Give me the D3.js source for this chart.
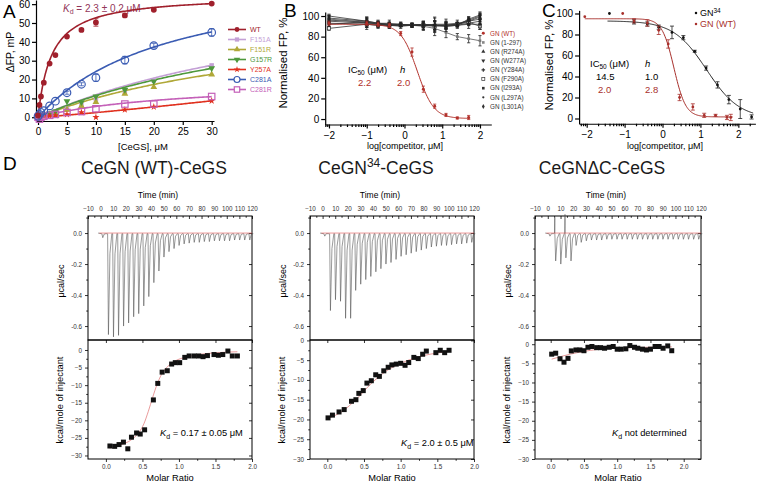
<!DOCTYPE html>
<html><head><meta charset="utf-8">
<script src="https://cdn.jsdelivr.net/npm/d3@7"></script>
<style>body{margin:0;background:#fff}svg{display:block}</style>
</head><body><svg id="c" width="759" height="484"></svg>
<script>
// ================= DATA =================
// ---- Panel A : ΔFP vs [CeGS]
const concA = [0, 0.25, 0.5, 1, 2, 3, 5, 7.5, 10, 15, 20, 30];
const namesA = ["WT","F151A","F151R","G157R","Y257A","C281A","C281R"];
const colorsA = ["#a0202c","#c4a0d6","#b0a838","#4e983c","#e0301e","#3b5cb3","#c460b8"];
const valsWT    = [1, 6.5, 11, 18.3, 28.5, 33, 42.8, 46.3, 50.3, 54, 57, 60.3];
const valsF151A = [0, 0.3, 0.5, 1, 2, 2.5, 4.5, 6.5, 9.5, 13, 19.5, 27.5];
const valsF151R = [0, 0.3, 0.5, 1, 1.5, 2, 4, 6, 8, 12.5, 16, 22.7];
const valsG157R = [0, 0.5, 1, 1.5, 2, 3, 8.5, 8, 11, 14.5, 19, 26];
const valsY257A = [0.5, 0.3, 0.5, 0.5, 0.8, 1, 1.5, 2.5, 0, 4, 5.5, 8.7];
const valsC281A = [0.5, 1.5, 2.5, 3.5, 6, 8.5, 13, 17.5, 21, 30.3, 38, 45];
const valsC281R = [0, -1, 0, 0.5, 1, 1.5, 2.5, 3, 4.5, 7, 7, 11];
const errWT     = [0, 0, 0, 0, 0, 0, 0, 0.8, 2, 0.8, 0.5, 0.5];
const errC281A  = [0, 0, 0, 0, 0, 0, 0.8, 0.8, 2, 2, 1.2, 2];
const fitBmaxA  = [64.9, 80, 60, 70, 8.7, 80, 20];
const fitKdA    = [2.3, 57, 49, 51, 1e9, 23, 25];
const fitHillA  = [1, 1, 1, 1, 1.15, 1, 1];
const ticksXA = [0, 5, 10, 15, 20, 25, 30];
const ticksYA = [0, 10, 20, 30, 40, 50, 60];

// ---- Panel B : competition, GN mutants
const logConcB = [-2, -1, -0.7, -0.4, -0.1, 0.2, 0.5, 0.8, 1.1, 1.4, 1.7, 2.0];
const namesB = ["GN (WT)","GN (1-297)","GN (R274A)","GN (W277A)","GN (Y284A)","GN (F290A)","GN (I293A)","GN (L297A)","GN (L301A)"];
const bWT    = [93, 93, 92, 91, 83, 65, 29, 12.5, 4, 1, 1.5, null];
const errBWT = [2, 2, 2, 2, 2, 4, 3, 2, 1.5, 1, 2, 0];
const b1_297 = [97, 94, 93, 93, 92, 91, 90, 88, 84, 80, 78, 76];
const bR274A = [95, 93, 92, 91, 91, 91, 91, 91, 90, 91, 93, 95];
const bW277A = [100, 95, 93, 92, 91, 91, 92, 91, 91, 92, 96, 100];
const bY284A = [92, 94, 92, 91, 92, 91, 91, 92, 92, 93, 95, 97];
const bF290A = [88, 92, 91, 91, 91, 91, 91, 90, 91, 92, 94, 90];
const bI293A = [98, 95, 93, 92, 91, 92, 91, 91, 91, 91, 97, 101];
const bL297A = [93, 92, 91, 91, 90, 91, 91, 91, 90, 91, 92, 92];
const bL301A = [96, 94, 92, 92, 92, 91, 92, 91, 91, 92, 95, 99];
const errBlackB = [3, 5, 3, 3, 2, 2, 4, 7, 5, 3, 4, 5];
const fitB_WT = {top: 92, bottom: 0.5, ic50: 2.2, h: 2.0};
const ticksXB = [-2, -1, 0, 1, 2];
const ticksYB = [0, 20, 40, 60, 80, 100];

// ---- Panel C : GN34 vs GN(WT)
const logConcC34 = [-1.4, -0.75, -0.4, -0.1, 0.25, 0.55, 0.85, 1.15, 1.45, 1.75, 2.05, 2.35];
const vC34       = [100, 92, 90, 87, 82, 77, 64, 48, 32, 18, 9, 1.5];
const errC34     = [0, 2, 2, 2, 6, 2, 1, 2, 3, 4, 9, 2];
const logConcCWT = [-2.05, -1.05, -0.75, -0.4, -0.1, 0.15, 0.45, 0.8, 1.1, 1.4, 1.7, 1.8];
const vCWT       = [97, 100, 93, 91, 84, 71, 20, 11, 3, 3, 1, 1];
const errCWT     = [0, 0, 2, 3, 4, 4, 3, 3, 2, 1, 2, 3];
const fitC34 = {top: 93, bottom: 0, ic50: 14.5, h: 1.0};
const fitCWT = {top: 95, bottom: 1.5, ic50: 2.0, h: 2.8};

// ---- Panel D : ITC
const injT  = [1, 5.5, 9.5, 13.5, 17.5, 21.5, 25.5, 29.5, 33.5, 37.5, 41.5, 45.5, 49.5, 53.5, 57.5, 61.5, 65.5, 69.5, 73.5, 77.5, 81.5, 85.5, 89.5, 93.5, 97.5, 101.5, 105.5, 109.5, 113.5, 117.5];
const peak1 = [-0.03, -0.655, -0.67, -0.66, -0.60, -0.58, -0.54, -0.52, -0.47, -0.41, -0.32, -0.245, -0.155, -0.12, -0.10, -0.08, -0.07, -0.065, -0.06, -0.06, -0.055, -0.055, -0.05, -0.05, -0.05, -0.05, -0.045, -0.045, -0.045, -0.045];
const peak2 = [-0.02, -0.50, -0.43, -0.44, -0.55, -0.55, -0.37, -0.33, -0.30, -0.28, -0.25, -0.23, -0.20, -0.19, -0.17, -0.15, -0.14, -0.13, -0.12, -0.11, -0.10, -0.09, -0.085, -0.08, -0.08, -0.075, -0.07, -0.07, -0.065, -0.06];
const peak3 = [-0.02, -0.18, -0.20, -0.16, -0.18, -0.08, -0.06, -0.05, -0.045, -0.045, -0.045, -0.04, -0.04, -0.04, -0.04, -0.04, -0.04, -0.04, -0.04, -0.04, -0.04, -0.04, -0.04, -0.04, -0.04, -0.04, -0.04, -0.04, -0.04, -0.04];
const up3   = [0, 0.10, 0, 0.12, 0, 0, 0, 0, 0, 0, 0, 0, 0, 0, 0, 0, 0, 0, 0, 0, 0, 0, 0, 0, 0, 0, 0, 0, 0, 0];
const ratio1 = [0.055,0.12,0.18,0.24,0.30,0.35,0.42,0.47,0.53,0.65,0.71,0.77,0.84,0.90,0.95,1.01,1.08,1.14,1.21,1.27,1.33,1.39,1.48,1.54,1.60,1.67,1.73,1.80];
const dh1    = [-27.3,-27.4,-26.9,-26.2,-28.1,-24.8,-23.6,-23.9,-22.7,-14.2,-9.5,-6.3,-5.9,-4.0,-3.6,-3.6,-2.1,-1.7,-1.7,-1.7,-1.9,-1.6,-1.3,-1.5,-1.3,-0.3,-1.7,-1.7];
const ratio2 = [0.01,0.07,0.16,0.23,0.33,0.39,0.43,0.49,0.54,0.60,0.66,0.71,0.77,0.83,0.88,0.94,1.00,1.06,1.11,1.18,1.24,1.30,1.35,1.48,1.54,1.60,1.66];
const dh2    = [-19.6,-18.9,-18.1,-17.5,-15.4,-15.0,-13.4,-12.7,-10.8,-10.2,-8.7,-9.1,-7.7,-6.8,-6.2,-6.0,-5.8,-6.3,-5.6,-4.3,-4.6,-3.5,-2.7,-3.1,-2.5,-3.1,-2.5];
const ratio3 = [0.015,0.075,0.14,0.2,0.26,0.31,0.38,0.44,0.5,0.56,0.62,0.69,0.75,0.81,0.88,0.94,1.0,1.06,1.13,1.19,1.26,1.31,1.38,1.44,1.5,1.57,1.63,1.69,1.76,1.82];
const dh3    = [-2.6,-2.35,-3.8,-4.7,-3.7,-1.75,-1.5,-1.5,-1.7,-0.8,-0.6,-0.9,-0.9,-1.05,-0.8,-0.6,-1.3,-1.3,-1.2,-0.35,-0.8,-1.05,-1.3,-1.5,-1.3,-0.6,-0.6,-1.05,-0.45,-1.7];
const fitR1 = [0.05,0.2,0.35,0.45,0.52,0.58,0.64,0.7,0.76,0.85,0.95,1.1,1.3,1.5,1.8];
const fitD1 = [-27.9,-27.0,-25.5,-23.5,-21,-17.5,-13.5,-9.8,-7,-4.6,-3.1,-2,-1.2,-0.8,-0.5];
const fitR2 = [0,0.2,0.4,0.6,0.8,1.0,1.2,1.4,1.66];
const fitD2 = [-19.8,-18,-14.8,-10.9,-7.8,-5.8,-4.4,-3.5,-2.8];
const fitR3 = [0.015,0.2,0.4,0.6,0.8,1.0,1.3,1.6,1.82];
const fitD3 = [-3.9,-3.0,-2.2,-1.6,-1.2,-1.0,-0.85,-0.75,-0.7];
const timeTicks = [-10,0,10,20,30,40,50,60,70,80,90,100,110,120];
const ucalTicks = [0,-0.2,-0.4,-0.6];
const kcalTicks = [0,-5,-10,-15,-20,-25,-30];
const ratioTicks = [0,0.5,1.0,1.5,2.0];

// ================= DRAW =================
const FONT = '"Liberation Sans", Arial, Helvetica, sans-serif';
const svg = d3.select("#c");
svg.append("rect").attr("width",759).attr("height",484).attr("fill","#fff");

function styleAxis(g, fs, sw, col) {
  g.attr("font-family", FONT).attr("font-size", fs);
  g.selectAll("path.domain").attr("stroke","#000").attr("stroke-width", sw||1.2);
  g.selectAll(".tick line").attr("stroke","#000").attr("stroke-width", sw||1.2);
  g.selectAll(".tick text").attr("fill", col||"#000");
}
function marker(g, type, x, y, size, fill, stroke, sw) {
  let sym = d3.symbolCircle, rot = 0;
  if (type==="square") sym = d3.symbolSquare;
  if (type==="tri") sym = d3.symbolTriangle;
  if (type==="tridown") { sym = d3.symbolTriangle; rot = 180; }
  if (type==="star") sym = d3.symbolStar;
  if (type==="cross") sym = d3.symbolCross;
  if (type==="diamond") sym = d3.symbolDiamond;
  g.append("path").attr("d", d3.symbol().type(sym).size(size)())
    .attr("transform", `translate(${x},${y}) rotate(${rot})`)
    .attr("fill", fill).attr("stroke", stroke||"none").attr("stroke-width", sw||1);
}
function errBar(g, x, y0, y1, col, cap) {
  g.append("line").attr("x1",x).attr("x2",x).attr("y1",y0).attr("y2",y1).attr("stroke",col).attr("stroke-width",0.8);
  [y0,y1].forEach(yy => g.append("line").attr("x1",x-cap).attr("x2",x+cap).attr("y1",yy).attr("y2",yy).attr("stroke",col).attr("stroke-width",0.8));
}
function addText(g, x, y, s, fs, opts) {
  opts = opts || {};
  const t = g.append("text").attr("x",x).attr("y",y).attr("font-family",FONT).attr("font-size",fs)
    .attr("fill", opts.fill||"#000").attr("text-anchor", opts.anchor||"start").text(s);
  if (opts.rot) t.attr("transform", `rotate(${opts.rot},${x},${y})`);
  if (opts.weight) t.attr("font-weight", opts.weight);
  return t;
}
function logMinor(lo, hi) {
  const out = [];
  for (let n = -3; n <= 3; n++) for (let k = 2; k <= 9; k++) { const v = n + Math.log10(k); if (v > lo && v < hi) out.push(v); }
  return out;
}

// ---------- Panel A ----------
{
  const g = svg.append("g");
  const x = d3.scaleLinear().domain([-0.35, 30.4]).range([36, 214]);
  const y = d3.scaleLinear().domain([-2, 62.2]).range([121, 0]);
  g.append("g").attr("transform","translate(36,0)")
    .call(d3.axisLeft(y).tickValues(ticksYA).tickSize(4).tickSizeOuter(0).tickPadding(2)).call(styleAxis, 10);
  g.append("g").attr("transform","translate(0,121)")
    .call(d3.axisBottom(x).tickValues(ticksXA).tickSize(4).tickSizeOuter(0).tickPadding(3)).call(styleAxis, 10);
  addText(g, 3, 18, "A", 19);
  addText(g, 14, 52, "ΔFP, mP", 10.5, {rot:-90, anchor:"middle"});
  addText(g, 143, 150, "[CeGS], μM", 9.5, {anchor:"middle"});
  const kd = g.append("text").attr("x",63).attr("y",12).attr("font-family",FONT).attr("font-size",10).attr("fill","#93365a");
  kd.append("tspan").attr("font-style","italic").text("K");
  kd.append("tspan").attr("font-size",7).attr("dy",2).text("d");
  kd.append("tspan").attr("dy",-2).text(" = 2.3 ± 0.2 μM");

  const vals = [valsWT, valsF151A, valsF151R, valsG157R, valsY257A, valsC281A, valsC281R];
  const mk = ["circle","square","tri","tridown","star","ocircle","osquare"];
  const order = [1,2,3,4,6,5,0];
  const line = d3.line().x(d => x(d[0])).y(d => y(d[1]));
  const xs = d3.range(0, 30.01, 0.25);
  order.forEach(i => {
    const B = fitBmaxA[i], K = fitKdA[i], n = fitHillA[i];
    const pts = xs.map(c => [c, K > 1e8 ? B * Math.pow(c/30, n) : B * Math.pow(c,n) / (Math.pow(K,n) + Math.pow(c,n))]);
    g.append("path").attr("d", line(pts)).attr("fill","none").attr("stroke",colorsA[i]).attr("stroke-width",1.6);
  });
  order.forEach(i => {
    const col = colorsA[i];
    concA.forEach((c, j) => {
      const v = vals[i][j];
      if (i===0 && errWT[j]) errBar(g, x(c), y(v-errWT[j]), y(v+errWT[j]), col, 2.5);
      if (i===5 && errC281A[j]) errBar(g, x(c), y(v-errC281A[j]), y(v+errC281A[j]), col, 2.5);
      const t = mk[i];
      if (t==="ocircle") g.append("circle").attr("cx",x(c)).attr("cy",y(v)).attr("r",3.8).attr("fill","none").attr("stroke",col).attr("stroke-width",1.2);
      else if (t==="osquare") g.append("rect").attr("x",x(c)-3.2).attr("y",y(v)-3.2).attr("width",6.4).attr("height",6.4).attr("fill","none").attr("stroke",col).attr("stroke-width",1.2);
      else marker(g, t, x(c), y(v), t==="star"?16:(i===0?26:20), col);
    });
  });
  // legend
  namesA.forEach((nm, i) => {
    const yy = 29.5 + i * 10, col = colorsA[i];
    g.append("line").attr("x1",228).attr("x2",246).attr("y1",yy).attr("y2",yy).attr("stroke",col).attr("stroke-width",1.6);
    const t = mk[i];
    if (t==="ocircle") g.append("circle").attr("cx",237).attr("cy",yy).attr("r",3).attr("fill","#fff").attr("stroke",col).attr("stroke-width",1.2);
    else if (t==="osquare") g.append("rect").attr("x",234.3).attr("y",yy-2.7).attr("width",5.4).attr("height",5.4).attr("fill","#fff").attr("stroke",col).attr("stroke-width",1.2);
    else marker(g, t, 237, yy, t==="star"?14:18, col);
    addText(g, 250, yy + 2.5, nm, 7, {fill: col});
  });
}

// ---------- Panel B ----------
{
  const g = svg.append("g");
  const x = d3.scaleLinear().domain([-2.1, 2.3]).range([325.2, 491.3]);
  const y = d3.scaleLinear().domain([-5.3, 104]).range([124.5, 11.9]);
  g.append("g").attr("transform","translate(325.2,0)")
    .call(d3.axisLeft(y).tickValues(ticksYB).tickSize(4).tickSizeOuter(0).tickPadding(2)).call(styleAxis, 10);
  g.append("g").attr("transform","translate(0,124.5)")
    .call(d3.axisBottom(x).tickValues(ticksXB).tickSize(4).tickSizeOuter(0).tickPadding(3).tickFormat(d3.format("d"))).call(styleAxis, 10);
  g.append("g").attr("transform","translate(0,124.5)")
    .call(d3.axisBottom(x).tickValues(logMinor(-2.1, 2.3)).tickSize(2.5).tickFormat("")).call(styleAxis, 10)
    .select("path.domain").remove();
  addText(g, 284, 17, "B", 19);
  addText(g, 287, 63, "Normalised FP, %", 11.5, {rot:-90, anchor:"middle"});
  addText(g, 405, 149, "log[competitor, μM]", 9, {anchor:"middle"});

  const blackSeries = [b1_297, bR274A, bW277A, bY284A, bF290A, bI293A, bL297A, bL301A];
  const blackMk = ["square","tri","tridown","cross","osq","square","circle","diamond"];
  const line = d3.line().defined(d => d[1] != null).x(d => x(d[0])).y(d => y(d[1]));
  blackSeries.forEach((s, k) => {
    const pts = logConcB.map((c, j) => [c, s[j]]);
    g.append("path").attr("d", line(pts)).attr("fill","none").attr("stroke", k===0?"#555":"#333").attr("stroke-width",0.8);
  });
  blackSeries.forEach((s, k) => {
    logConcB.forEach((c, j) => {
      const e = errBlackB[j] * (k % 3 === 0 ? 1 : 0.6);
      errBar(g, x(c), y(s[j]-e), y(s[j]+e), "#222", 1.6);
      if (blackMk[k]==="osq") g.append("rect").attr("x",x(c)-1.6).attr("y",y(s[j])-1.6).attr("width",3.2).attr("height",3.2).attr("fill","#fff").attr("stroke","#222").attr("stroke-width",0.7);
      else marker(g, blackMk[k], x(c), y(s[j]), 7, k===0?"#777":"#222");
    });
  });
  // red WT
  const xs = d3.range(-2, 1.76, 0.02);
  const f = fitB_WT;
  g.append("path").attr("d", d3.line().x(d => x(d)).y(d => y(f.bottom + (f.top - f.bottom) / (1 + Math.pow(10, (d - Math.log10(f.ic50)) * f.h))))(xs))
    .attr("fill","none").attr("stroke","#b2302a").attr("stroke-width",1);
  logConcB.forEach((c, j) => {
    if (bWT[j] == null) return;
    if (errBWT[j]) errBar(g, x(c), y(bWT[j]-errBWT[j]), y(bWT[j]+errBWT[j]), "#b2302a", 1.6);
    marker(g, "circle", x(c), y(bWT[j]), 7, "#b2302a");
  });
  // IC50 text
  const t1 = g.append("text").attr("x",348).attr("y",73).attr("font-family",FONT).attr("font-size",9.5);
  t1.append("tspan").text("IC");
  t1.append("tspan").attr("font-size",6.5).attr("dy",2).text("50");
  t1.append("tspan").attr("dy",-2).text(" (μM)");
  addText(g, 400, 73, "h", 9.5, {}).attr("font-style","italic");
  addText(g, 358, 86, "2.2", 9.5, {fill:"#b2302a"});
  addText(g, 397, 86, "2.0", 9.5, {fill:"#b2302a"});
  // legend
  const legMk = ["circle","square","tri","tridown","cross","osq","square","circle","diamond"];
  namesB.forEach((nm, i) => {
    const yy = 33.3 + i * 9.15;
    const col = i === 0 ? "#b2302a" : "#333";
    if (legMk[i]==="osq") g.append("rect").attr("x",481.8).attr("y",yy-1.5).attr("width",3).attr("height",3).attr("fill","#fff").attr("stroke",col).attr("stroke-width",0.7);
    else marker(g, legMk[i], 483.3, yy, i===7?4:7, i===1?"#888":col);
    addText(g, 490, yy + 2.2, nm, 6.3, {fill: col});
  });
}

// ---------- Panel C ----------
{
  const g = svg.append("g");
  const x = d3.scaleLinear().domain([-2.2, 2.45]).range([579.1, 755.4]);
  const y = d3.scaleLinear().domain([-5, 103]).range([123.75, 10.35]);
  g.append("g").attr("transform","translate(579.1,0)")
    .call(d3.axisLeft(y).tickValues(ticksYB).tickSize(4).tickSizeOuter(0).tickPadding(2)).call(styleAxis, 10);
  g.append("g").attr("transform","translate(0,123.75)")
    .call(d3.axisBottom(x).tickValues(ticksXB).tickSize(4).tickSizeOuter(0).tickPadding(3).tickFormat(d3.format("d"))).call(styleAxis, 10);
  g.append("g").attr("transform","translate(0,123.75)")
    .call(d3.axisBottom(x).tickValues(logMinor(-2.2, 2.45)).tickSize(2.5).tickFormat("")).call(styleAxis, 10)
    .select("path.domain").remove();
  addText(g, 542, 17, "C", 19);
  addText(g, 553, 65, "Normalised FP, %", 11.5, {rot:-90, anchor:"middle"});
  addText(g, 665, 149, "log[competitor, μM]", 9, {anchor:"middle"});
  const sig = f => d => f.bottom + (f.top - f.bottom) / (1 + Math.pow(10, (d - Math.log10(f.ic50)) * f.h));
  g.append("path").attr("d", d3.line().x(d => x(d)).y(d => y(sig(fitC34)(d)))(d3.range(-1.45, 2.41, 0.02)))
    .attr("fill","none").attr("stroke","#222").attr("stroke-width",1);
  g.append("path").attr("d", d3.line().x(d => x(d)).y(d => y(sig(fitCWT)(d)))(d3.range(-2.05, 1.86, 0.02)))
    .attr("fill","none").attr("stroke","#a8302c").attr("stroke-width",1);
  logConcC34.forEach((c, j) => {
    if (errC34[j]) errBar(g, x(c), y(vC34[j]-errC34[j]), y(vC34[j]+errC34[j]), "#222", 2);
    marker(g, "circle", x(c), y(vC34[j]), 6, "#111");
  });
  logConcCWT.forEach((c, j) => {
    if (errCWT[j]) errBar(g, x(c), y(vCWT[j]-errCWT[j]), y(vCWT[j]+errCWT[j]), "#a8302c", 2);
    marker(g, "circle", x(c), y(vCWT[j]), 6, "#a8302c");
  });
  const lg = g.append("text").attr("x",700).attr("y",16).attr("font-family",FONT).attr("font-size",9);
  lg.append("tspan").text("GN"); lg.append("tspan").attr("font-size",6.5).attr("dy",-3.5).text("34");
  marker(g, "circle", 696, 13, 5, "#111");
  addText(g, 700, 27, "GN (WT)", 9, {fill:"#a8302c"});
  marker(g, "circle", 696, 24, 5, "#a8302c");
  const t1 = g.append("text").attr("x",590).attr("y",67).attr("font-family",FONT).attr("font-size",9.5);
  t1.append("tspan").text("IC");
  t1.append("tspan").attr("font-size",6.5).attr("dy",2).text("50");
  t1.append("tspan").attr("dy",-2).text(" (μM)");
  addText(g, 645, 67, "h", 9.5, {}).attr("font-style","italic");
  addText(g, 596, 80, "14.5", 9.5, {});
  addText(g, 645, 80, "1.0", 9.5, {});
  addText(g, 598, 93, "2.0", 9.5, {fill:"#a8302c"});
  addText(g, 645, 93, "2.8", 9.5, {fill:"#a8302c"});
}

// ---------- Panel D ----------
addText(svg, 3, 170, "D", 19);
const itcPanels = [
  {left: 88, right: 252, peaks: peak1, up: null, ratio: ratio1, dh: dh1, fr: fitR1, fd: fitD1, rDom: [-0.245, 2.0], lowDom: [-31, 2.84],
   title: ["CeGN (WT)-CeGS"], kd: ["0.17 ± 0.05 μM", 160, 436]},
  {left: 310, right: 474, peaks: peak2, up: null, ratio: ratio2, dh: dh2, fr: fitR2, fd: fitD2, rDom: [-0.236, 2.0], lowDom: [-30, 0.1],
   title: ["CeGN", "34", "-CeGS"], kd: ["2.0 ± 0.5 μM", 401, 446]},
  {left: 535, right: 701, peaks: peak3, up: up3, ratio: ratio3, dh: dh3, fr: fitR3, fd: fitD3, rDom: [-0.236, 2.26], lowDom: [-30, 1.1],
   title: ["CeGNΔC-CeGS"], kd: null}
];
const TOP = 216, MID = 340, BOT = 459;
itcPanels.forEach((p, pi) => {
  const g = svg.append("g");
  const cx = (p.left + p.right) / 2;
  const tx = d3.scaleLinear().domain([-10, 120]).range([p.left, p.right]);
  const yu = d3.scaleLinear().domain([-0.69, 0.11]).range([MID, TOP]);
  const rx = d3.scaleLinear().domain(p.rDom).range([p.left, p.right]);
  const yl = d3.scaleLinear().domain(p.lowDom).range([BOT, MID]);
  // title
  const tt = g.append("text").attr("x", cx - 16).attr("y", 174).attr("font-family",FONT).attr("font-size",17.5).attr("fill","#1a1a1a").attr("text-anchor","middle");
  tt.append("tspan").text(p.title[0]);
  if (p.title.length > 1) { tt.append("tspan").attr("font-size",12).attr("dy",-7).text(p.title[1]); tt.append("tspan").attr("dy",7).text(p.title[2]); }
  addText(g, cx - 12, 198, "Time (min)", 8.5, {anchor:"middle"});
  // frames
  g.append("rect").attr("x",p.left).attr("y",TOP).attr("width",p.right-p.left).attr("height",MID-TOP).attr("fill","none").attr("stroke","#000").attr("stroke-width",1);
  g.append("rect").attr("x",p.left).attr("y",MID).attr("width",p.right-p.left).attr("height",BOT-MID).attr("fill","none").attr("stroke","#000").attr("stroke-width",1);
  // top time axis
  g.append("g").attr("transform",`translate(0,${TOP})`)
    .call(d3.axisTop(tx).tickValues(timeTicks).tickSize(-3).tickPadding(5).tickFormat(d3.format("d"))).call(styleAxis, 6.3, 0.8, "#333")
    .select("path.domain").remove();
  g.append("g").attr("transform",`translate(0,${TOP})`)
    .call(d3.axisTop(tx).tickValues(d3.range(-5, 120, 10)).tickSize(-1.8).tickFormat("")).call(styleAxis, 6, 0.8)
    .select("path.domain").remove();
  // upper y axis
  g.append("g").attr("transform",`translate(${p.left},0)`)
    .call(d3.axisLeft(yu).tickValues(ucalTicks).tickSize(3).tickPadding(3).tickFormat(d => d.toFixed(1))).call(styleAxis, 6.3, 0.8, "#333")
    .select("path.domain").remove();
  g.append("g").attr("transform",`translate(${p.left},0)`)
    .call(d3.axisLeft(yu).tickValues([0.1,-0.1,-0.3,-0.5]).tickSize(1.8).tickFormat("")).call(styleAxis, 6, 0.8)
    .select("path.domain").remove();
  g.append("g").attr("transform",`translate(${p.right},0)`)
    .call(d3.axisRight(yu).tickValues(ucalTicks).tickSize(-3).tickFormat("")).call(styleAxis, 6, 0.8)
    .select("path.domain").remove();
  // lower y axis
  g.append("g").attr("transform",`translate(${p.left},0)`)
    .call(d3.axisLeft(yl).tickValues(kcalTicks).tickSize(3).tickPadding(3).tickFormat(d3.format("d"))).call(styleAxis, 6.3, 0.8, "#333")
    .select("path.domain").remove();
  g.append("g").attr("transform",`translate(${p.left},0)`)
    .call(d3.axisLeft(yl).tickValues([-2.5,-7.5,-12.5,-17.5,-22.5,-27.5]).tickSize(1.8).tickFormat(""))
    .call(styleAxis, 6, 0.8).select("path.domain").remove();
  g.append("g").attr("transform",`translate(${p.right},0)`)
    .call(d3.axisRight(yl).tickValues(kcalTicks).tickSize(-3).tickFormat("")).call(styleAxis, 6, 0.8)
    .select("path.domain").remove();
  // molar ratio axes
  g.append("g").attr("transform",`translate(0,${BOT})`)
    .call(d3.axisBottom(rx).tickValues(ratioTicks).tickSize(3).tickPadding(3).tickFormat(d => d.toFixed(1))).call(styleAxis, 6.3, 0.8, "#333")
    .select("path.domain").remove();
  g.append("g").attr("transform",`translate(0,${BOT})`)
    .call(d3.axisBottom(rx).tickValues([0.25,0.75,1.25,1.75]).tickSize(1.8).tickFormat("")).call(styleAxis, 6, 0.8)
    .select("path.domain").remove();
  g.append("g").attr("transform",`translate(0,${MID})`)
    .call(d3.axisBottom(rx).tickValues(ratioTicks).tickSize(3).tickFormat("")).call(styleAxis, 6, 0.8)
    .select("path.domain").remove();
  // axis labels
  addText(g, p.left - 24, 281, "μcal/sec", 9, {rot:-90, anchor:"middle"});
  addText(g, p.left - 25, 400, "kcal/mole of injectant", 9.3, {rot:-90, anchor:"middle"});
  addText(g, cx, 481, "Molar Ratio", 9.3, {anchor:"middle"});
  // thermogram
  const pts = [[-2, 0]];
  injT.forEach((t, j) => {
    const h = p.peaks[j];
    if (p.up && p.up[j]) { pts.push([t - 0.2, 0]); pts.push([t, p.up[j]]); }
    pts.push([t + 0.05, -0.005]);
    pts.push([t + 0.7, h]);
    pts.push([t + 1.9, h * 0.2]);
    pts.push([t + 3.4, -0.004]);
  });
  pts.push([120, -0.004]);
  g.append("path").attr("d", d3.line().x(d => tx(d[0])).y(d => yu(d[1]))(pts))
    .attr("fill","none").attr("stroke","#555").attr("stroke-width",0.6);
  g.append("line").attr("x1",tx(-1)).attr("x2",tx(120)).attr("y1",yu(0)).attr("y2",yu(0)).attr("stroke","#e05050").attr("stroke-width",0.6);
  // isotherm
  g.append("path").attr("d", d3.line().curve(d3.curveMonotoneX).x((d,i) => rx(d)).y((d,i) => yl(p.fd[i]))(p.fr))
    .attr("fill","none").attr("stroke","#e07070").attr("stroke-width",0.7);
  p.ratio.forEach((r, j) => {
    g.append("rect").attr("x", rx(r) - 2.5).attr("y", yl(p.dh[j]) - 2.5).attr("width",5).attr("height",5).attr("fill","#111");
  });
  // Kd annotation
  const kt = g.append("text").attr("font-family",FONT).attr("font-size",9.3)
    .attr("x", p.kd ? p.kd[1] : 612).attr("y", p.kd ? p.kd[2] : 436);
  kt.append("tspan").attr("font-style","italic").text("K");
  kt.append("tspan").attr("font-size",7).attr("dy",2.5).text("d");
  kt.append("tspan").attr("dy",-2.5).text(p.kd ? " = " + p.kd[0] : " not determined");
});
</script>
</body></html>
